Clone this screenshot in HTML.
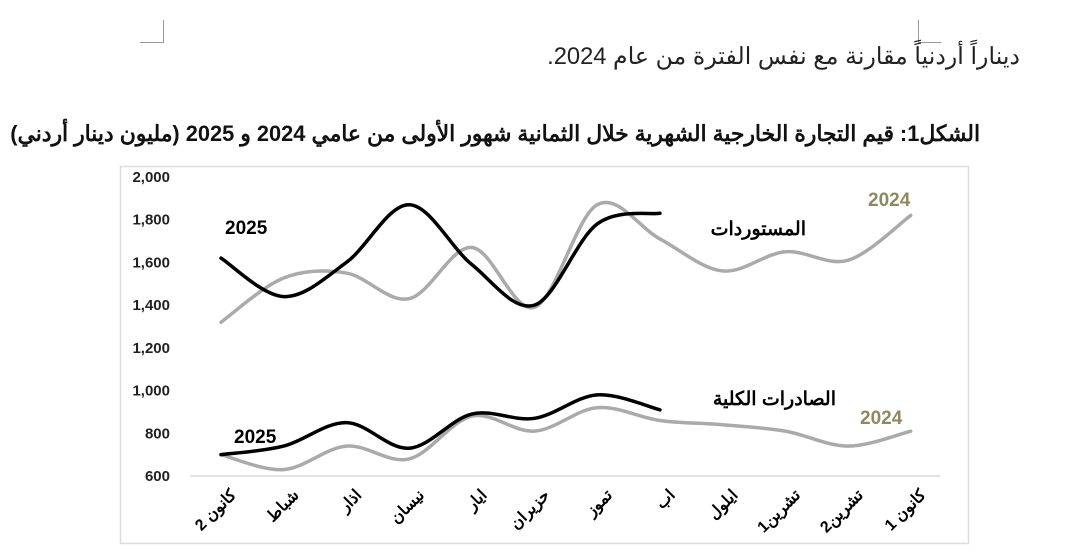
<!DOCTYPE html>
<html><head><meta charset="utf-8"><style>
body{margin:0;width:1080px;height:559px;background:#fff;overflow:hidden;position:relative;font-family:"Liberation Sans","Noto Sans CJK SC",sans-serif}
.t{position:absolute;white-space:nowrap;direction:rtl}
</style></head><body>
<div style="position:absolute;left:140px;top:42px;width:23px;height:1px;background:#999"></div>
<div style="position:absolute;left:163px;top:20px;width:1px;height:23px;background:#999"></div>
<div style="position:absolute;left:918px;top:20px;width:1px;height:23px;background:#999"></div>
<div style="position:absolute;left:918px;top:42px;width:23px;height:1px;background:#999"></div>
<div class="t" style="right:60px;top:42px;font-size:23.7px;color:#222">ديناراً أردنياً مقارنة مع نفس الفترة من عام 2024.</div>
<div class="t" style="right:100px;top:121px;font-size:21.8px;font-weight:bold;color:#111">الشكل1: قيم التجارة الخارجية الشهرية خلال الثمانية شهور الأولى من عامي 2024 و 2025 (مليون دينار أردني)</div>
<svg id="s" width="1080" height="559" style="position:absolute;left:0;top:0" font-family="Liberation Sans, sans-serif">
<rect x="120.5" y="166.5" width="848" height="377" fill="none" stroke="#ddd" stroke-width="1.5"/>
<line x1="190" y1="476" x2="940" y2="476" stroke="#d9d9d9" stroke-width="1.5"/>
</svg>
<script>
const s=document.getElementById('s'),NS='http://www.w3.org/2000/svg';
const Y=v=>476-(v-600)*0.2136,X=i=>221+i*62.7;
function el(t,a,txt){const e=document.createElementNS(NS,t);for(const k in a)e.setAttribute(k,a[k]);if(txt)e.textContent=txt;s.appendChild(e);return e;}
[2000,1800,1600,1400,1200,1000,800,600].forEach(v=>el('text',{x:170,y:Y(v)+5,'text-anchor':'end','font-size':15,'font-weight':'bold',fill:'#222'},v.toLocaleString('en-US')));
function path(d,c,w){const p=d.map((v,i)=>[X(i),Y(v)]);let str=`M${p[0]}`;for(let i=0;i<p.length-1;i++){const p0=p[i-1]||p[i],p1=p[i],p2=p[i+1],p3=p[i+2]||p2;
const c1=[p1[0]+(p2[0]-p0[0])/6,p1[1]+(p2[1]-p0[1])/6],c2=[p2[0]-(p3[0]-p1[0])/6,p2[1]-(p3[1]-p1[1])/6];str+=`C${c1} ${c2} ${p2}`;}
el('path',{d:str,fill:'none',stroke:c,'stroke-width':w,'stroke-linecap':'round'});}
path([1320,1527,1550,1430,1670,1390,1870,1710,1560,1650,1610,1820],'#aaa',3.5);
path([700,630,740,680,880,810,920,860,840,810,740,810],'#aaa',3.5);
path([1620,1440,1600,1870,1590,1400,1780,1830],'#000',3.5);
path([700,740,850,730,890,870,980,910],'#000',3.5);
el('text',{x:225,y:234,'font-size':19,'font-weight':'bold'},'2025');
el('text',{x:234,y:443,'font-size':19,'font-weight':'bold'},'2025');
el('text',{x:868,y:206,'font-size':19,'font-weight':'bold',fill:'#8e8a60'},'2024');
el('text',{x:860,y:424,'font-size':19,'font-weight':'bold',fill:'#8e8a60'},'2024');
el('text',{x:806,y:235,'font-size':19,'font-weight':'bold','text-anchor':'end'},'المستوردات');
el('text',{x:836,y:405,'font-size':19,'font-weight':'bold','text-anchor':'end'},'الصادرات الكلية');
['كانون 2','شباط','اذار','نيسان','ايار','حزيران','تموز','اب','ايلول','تشرين1','تشرين2','كانون 1'].forEach((m,i)=>{const x=X(i)+16,y=496;
el('text',{x:x,y:y,'font-size':16,'font-weight':'bold','text-anchor':'end',transform:`rotate(-45 ${x} ${y})`},m);});
</script>
</body></html>
